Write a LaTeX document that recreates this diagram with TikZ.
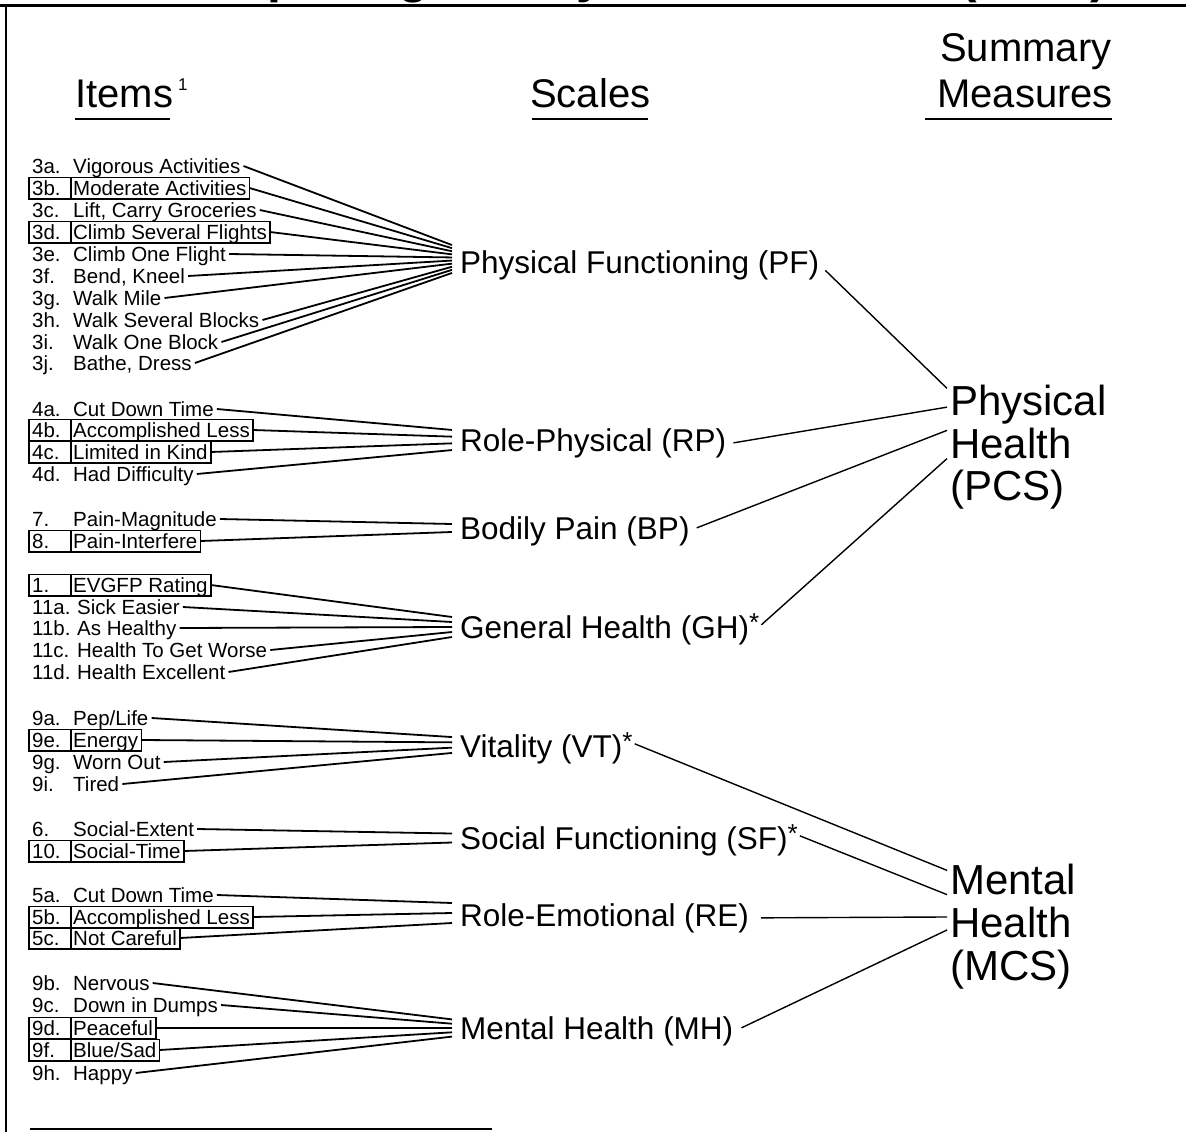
\documentclass[tikz,border=0pt]{standalone}
\usepackage{fontspec}
\setmainfont{Liberation Sans}
\usetikzlibrary{calc}

% One block of questionnaire items feeding one scale:
% #1 scale name, #2 centre of the fan of line ends, #3 spacing of the ends,
% #4 number of items, #5 list id/centre-y/number/text/boxed/number-width
\newcommand\drawitemgroup[5]{%
  \foreach \id/\yc/\num/\txt/\bx/\w [count=\k] in {#5}{%
    \node[itemtxt] (\id) at (29,{\yc+7.3}) {\makebox[\w pt][l]{\num}\txt};
    \ifnum\bx=1
      \draw[boxline] (\id.north west) rectangle (\id.south east);
      \draw[boxline] ([xshift=42pt]\id.north west) -- ([xshift=42pt]\id.south west);
    \fi
    \coordinate (#1-\k) at (452,{#2+(\k-(#4+1)/2)*#3});
    \draw[itemlink] (\id.east) -- (#1-\k);
  }}
% raised asterisk after a scale name
\newcommand\scalestar{\raisebox{7pt}{\fontsize{26}{26}\selectfont*}}

\begin{document}
\begin{tikzpicture}[x=1pt,y=-1pt,
  itemtxt/.style={anchor=base west,inner xsep=3pt,inner ysep=2.5pt,
    text height=15.3pt,text depth=0.7pt,font=\fontsize{20.5}{22}\selectfont},
  boxline/.style={line width=1.6pt},
  itemlink/.style={line width=1.8pt},
  sumlink/.style={line width=1.4pt},
  scalelbl/.style={anchor=base west,inner sep=0pt,font=\fontsize{31.5}{34}\selectfont},
  sumlbl/.style={anchor=base west,inner xsep=3pt,inner ysep=0pt,font=\fontsize{42}{44}\selectfont},
  headlbl/.style={anchor=base west,inner sep=0pt,font=\fontsize{40}{44}\selectfont},
  headrule/.style={line width=2.5pt},
  titlefrag/.style={anchor=base,inner sep=0pt,font=\fontsize{50}{50}\selectfont\bfseries},
]
\useasboundingbox (0,0) rectangle (1186,1132);

% frame and the descenders of the heading above it
\node[titlefrag] (tp) at (283,-7) {p};
\node[titlefrag] (tg) at (414,-7) {g};
\node[titlefrag] (ty) at (590,-7) {y};
\node[titlefrag] (tl) at (969,-7) {(};
\node[titlefrag] (tr) at (1099,-7) {)};
\draw[line width=3pt] (0,6) -- (1186,6);
\draw[line width=2.5pt] (6,6) -- (6,1132);

% column headings
\node[headlbl] (hItems) at (75,107) {Items};
\node[anchor=base west,inner sep=0pt,font=\fontsize{17}{17}\selectfont] (hSup) at (178,90) {1};
\node[headlbl] (hScales) at (530,107) {Scales};
\node[headlbl] (hSum1) at (940,62) {Summary};
\node[headlbl] (hSum2) at (937,107) {Measures};
\draw[headrule] (75,119) -- (170,119);
\draw[headrule] (532,119) -- (648,119);
\draw[headrule] (925,119) -- (1112,119);

% scales
\node[scalelbl] (PF) at (460,273.5) {Physical Functioning (PF)};
\node[scalelbl] (RP) at (460,451) {Role-Physical (RP)};
\node[scalelbl] (BP) at (460,539) {Bodily Pain (BP)};
\node[scalelbl] (GH) at (460,638) {General Health (GH)\scalestar};
\node[scalelbl] (VT) at (460,757) {Vitality (VT)\scalestar};
\node[scalelbl] (SF) at (460,849) {Social Functioning (SF)\scalestar};
\node[scalelbl] (RE) at (460,926) {Role-Emotional (RE)};
\node[scalelbl] (MH) at (460,1039) {Mental Health (MH)};

% summary measures
\node[sumlbl] (PCS1) at (947,415) {Physical};
\node[sumlbl] (PCS2) at (947,458) {Health};
\node[sumlbl] (PCS3) at (947,500) {(PCS)};
\node[sumlbl] (MCS1) at (947,894) {Mental};
\node[sumlbl] (MCS2) at (947,937) {Health};
\node[sumlbl] (MCS3) at (947,980) {(MCS)};

% items
\drawitemgroup{PF}{259}{3.1}{10}{
 i3a/166/3a./Vigorous Activities/0/41,
 i3b/188/3b./Moderate Activities/1/41,
 i3c/210/3c./{Lift, Carry Groceries}/0/41,
 i3d/232/3d./Climb Several Flights/1/41,
 i3e/254/3e./Climb One Flight/0/41,
 i3f/276/3f./{Bend, Kneel}/0/41,
 i3g/298/3g./Walk Mile/0/41,
 i3h/320/3h./Walk Several Blocks/0/41,
 i3i/342/3i./Walk One Block/0/41,
 i3j/363/3j./{Bathe, Dress}/0/41}
\drawitemgroup{RP}{440}{6.7}{4}{
 i4a/409/4a./Cut Down Time/0/41,
 i4b/430/4b./Accomplished Less/1/41,
 i4c/452/4c./Limited in Kind/1/41,
 i4d/474/4d./Had Difficulty/0/41}
\drawitemgroup{BP}{528}{8}{2}{
 i7/519/7./Pain-Magnitude/0/41,
 i8/541/8./Pain-Interfere/1/41}
\drawitemgroup{GH}{627}{5}{5}{
 i1/585/1./EVGFP Rating/1/41,
 i11a/607/11a./Sick Easier/0/45,
 i11b/628/11b./As Healthy/0/45,
 i11c/650/11c./Health To Get Worse/0/45,
 i11d/672/11d./Health Excellent/0/45}
\drawitemgroup{VT}{745}{5.3}{4}{
 i9a/718/9a./{Pep/Life}/0/41,
 i9e/740/9e./Energy/1/41,
 i9g/762/9g./Worn Out/0/41,
 i9i/784/9i./Tired/0/41}
\drawitemgroup{SF}{838}{9}{2}{
 i6/829/6./Social-Extent/0/41,
 i10/851/10./Social-Time/1/41}
\drawitemgroup{RE}{913}{10}{3}{
 i5a/895/5a./Cut Down Time/0/41,
 i5b/917/5b./Accomplished Less/1/41,
 i5c/938/5c./Not Careful/1/41}
\drawitemgroup{MH}{1028}{4.3}{5}{
 i9b/983/9b./Nervous/0/41,
 i9c/1005/9c./Down in Dumps/0/41,
 i9d/1028/9d./Peaceful/1/41,
 i9f/1050/9f./{Blue/Sad}/1/41,
 i9h/1073/9h./Happy/0/41}

% scales to summary measures
\draw[sumlink] ([xshift=6pt,yshift=-5pt]PF.east) -- ([yshift=-4pt]PCS1.north west);
\draw[sumlink] ([xshift=7pt]RP.east) -- ([yshift=-3pt]PCS1.west);
\draw[sumlink] ([xshift=7pt,yshift=3pt]BP.east) -- ([yshift=-3pt]PCS2.north west);
\draw[sumlink] ([xshift=2pt,yshift=4pt]GH.east) -- (PCS2.south west);
\draw[sumlink] ([xshift=2pt,yshift=4pt]VT.east) -- ([yshift=-7pt]MCS1.north west);
\draw[sumlink] ([xshift=2pt,yshift=4pt]SF.east) -- (MCS1.south west);
\draw[sumlink] ([xshift=12pt]RE.east) -- ([yshift=5pt]MCS2.west);
\draw[sumlink] ([xshift=8pt,yshift=3pt]MH.east) -- ([yshift=-8pt]MCS2.west);

% footnote rule
\draw[line width=2pt] (30,1129) -- (492,1129);
\end{tikzpicture}
\end{document}
